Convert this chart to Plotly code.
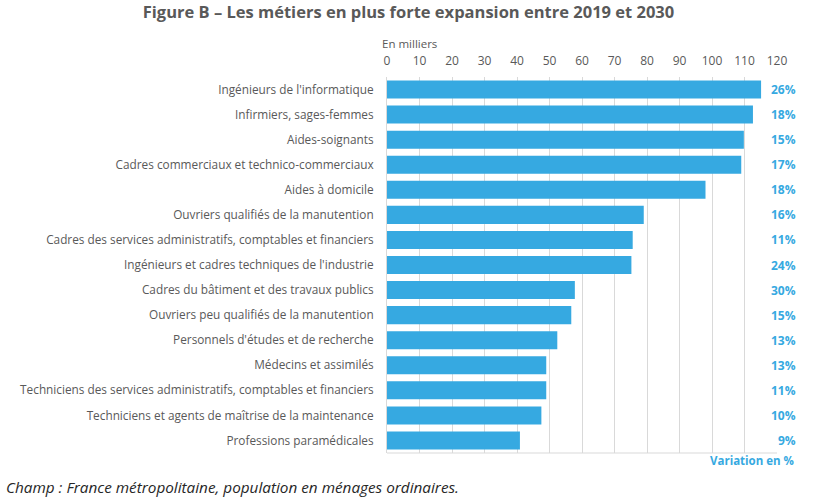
import plotly.graph_objects as go

categories = [
    "Ingénieurs de l'informatique",
    "Infirmiers, sages-femmes",
    "Aides-soignants",
    "Cadres commerciaux et technico-commerciaux",
    "Aides à domicile",
    "Ouvriers qualifiés de la manutention",
    "Cadres des services administratifs, comptables et financiers",
    "Ingénieurs et cadres techniques de l'industrie",
    "Cadres du bâtiment et des travaux publics",
    "Ouvriers peu qualifiés de la manutention",
    "Personnels d'études et de recherche",
    "Médecins et assimilés",
    "Techniciens des services administratifs, comptables et financiers",
    "Techniciens et agents de maîtrise de la maintenance",
    "Professions paramédicales",
]
values = [115.1, 112.6, 109.8, 109.0, 98.0, 79.0, 75.6, 75.2, 57.8, 56.7, 52.4, 49.0, 49.0, 47.5, 40.9]
variation = ["26%", "18%", "15%", "17%", "18%", "16%", "11%", "24%", "30%", "15%", "13%", "13%", "11%", "10%", "9%"]
x_ticks = list(range(0, 121, 10))

BLUE = "#36a9e1"
GREY = "#595959"
FONT = "Open Sans, Liberation Sans, sans-serif"

W, H = 817, 498
ML, MR, MT, MB = 387, 40, 77, 45
PW, PH = W - ML - MR, H - MT - MB


def px_x(x):
    return (x - ML) / PW


def px_y(y):
    return (H - MB - y) / PH


fig = go.Figure()
fig.add_trace(go.Bar(
    y=categories, x=values, orientation="h",
    marker=dict(color=BLUE, line=dict(width=0)),
    hoverinfo="skip",
))

for cat, v in zip(categories, variation):
    fig.add_annotation(
        x=1.0, xref="paper", y=cat, yref="y", text="<b>%s</b>" % v,
        xanchor="right", xshift=21, showarrow=False,
        font=dict(family=FONT, size=12, color=BLUE),
    )

fig.add_annotation(x=px_x(796), xref="paper", y=px_y(461), yref="paper",
                   xanchor="right", yanchor="middle", showarrow=False,
                   text="<b>Variation en %</b>",
                   font=dict(family=FONT, size=11.5, color=BLUE))
fig.add_annotation(x=px_x(380), xref="paper", y=px_y(44), yref="paper",
                   xanchor="left", yanchor="middle", showarrow=False,
                   text="En milliers",
                   font=dict(family=FONT, size=11.5, color=GREY))
fig.add_annotation(x=px_x(4), xref="paper", y=px_y(487), yref="paper",
                   xanchor="left", yanchor="middle", showarrow=False,
                   text="<i>Champ : France métropolitaine, population en ménages ordinaires.</i>",
                   font=dict(family=FONT, size=15.3, color="#262626"))

fig.update_layout(
    width=W, height=H,
    paper_bgcolor="white", plot_bgcolor="white",
    margin=dict(l=ML, r=MR, t=MT, b=MB),
    bargap=0.28,
    showlegend=False,
    title=dict(text="<b>Figure B – Les métiers en plus forte expansion entre 2019 et 2030</b>",
               x=0.5, xanchor="center", y=1 - 12/H, yanchor="middle",
               font=dict(family=FONT, size=16.5, color=GREY)),
    xaxis=dict(
        side="top", range=[0, 120], tickvals=x_ticks,
        showgrid=True, gridcolor="#d9d9d9", gridwidth=1,
        zeroline=False, showline=False,
        ticks="outside", ticklen=6, tickcolor="rgba(0,0,0,0)",
        tickfont=dict(family=FONT, size=12, color=GREY),
        automargin=False, fixedrange=True,
    ),
    yaxis=dict(
        autorange="reversed", showgrid=False, zeroline=False,
        showline=True, linecolor="#d9d9d9", linewidth=1, mirror=False,
        ticks="outside", ticklen=10, tickcolor="rgba(0,0,0,0)",
        tickfont=dict(family=FONT, size=11.8, color=GREY),
        automargin=False, fixedrange=True,
    ),
    font=dict(family=FONT, color=GREY),
)
fig.add_shape(type="line", xref="paper", yref="paper", x0=0, x1=1, y0=0, y1=0,
              line=dict(color="#d9d9d9", width=1))

fig.write_html("out.html", config={"displayModeBar": False},
               post_script="document.body.style.margin='0';document.body.style.overflow='hidden';")
